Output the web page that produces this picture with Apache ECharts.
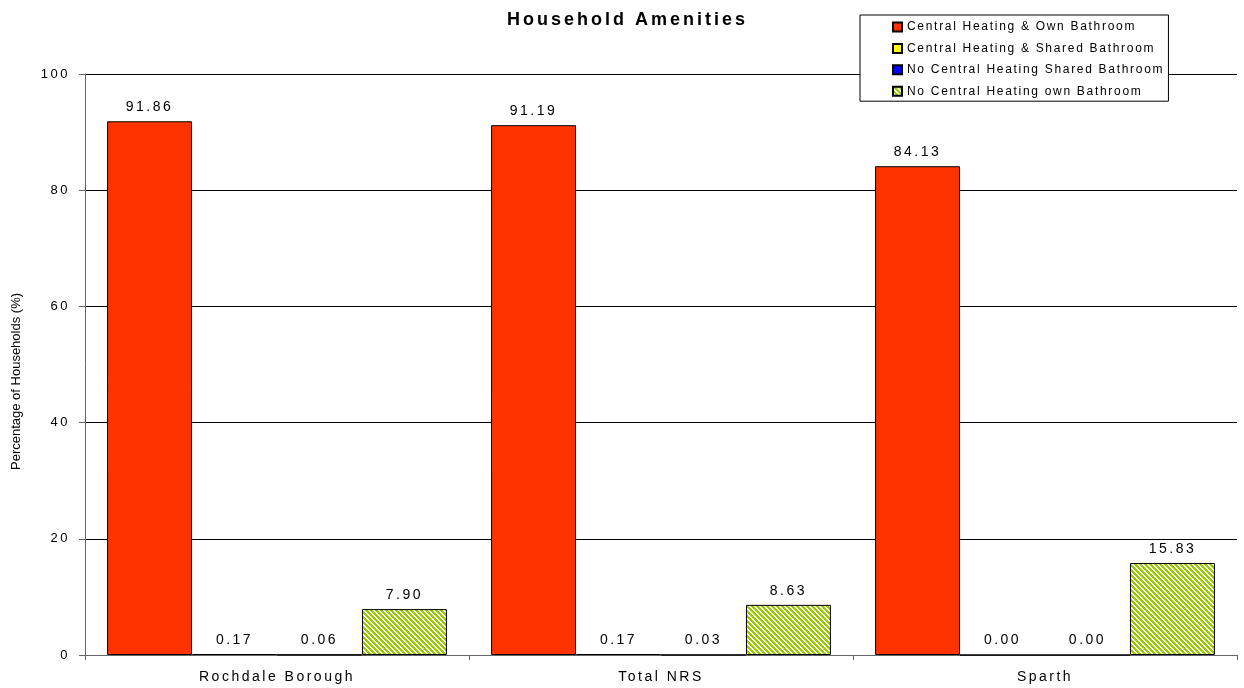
<!DOCTYPE html>
<html>
<head>
<meta charset="utf-8">
<title>Household Amenities</title>
<script src="https://cdn.jsdelivr.net/npm/echarts@6/dist/echarts.min.js"></script>
<style>
  html, body { margin: 0; padding: 0; background: #fff; }
  #chart { width: 1244px; height: 688px; }
</style>
</head>
<body>
<div id="chart"></div>
<script>
// Chart data
var categories = ["Rochdale Borough", "Total NRS", "Sparth"];
var seriesNames = [
  "Central Heating & Own Bathroom",
  "Central Heating & Shared Bathroom",
  "No Central Heating Shared Bathroom",
  "No Central Heating own Bathroom"
];
var ownBathHeating = [91.86, 91.19, 84.13];
var sharedBathHeating = [0.17, 0.17, 0.00];
var sharedBathNoHeating = [0.06, 0.03, 0.00];
var ownBathNoHeating = [7.90, 8.63, 15.83];
var yTicks = [0, 20, 40, 60, 80, 100];

// The original (Excel) text is drawn with wide letter spacing; echarts has no
// option for it, so add it on the canvas for the "Liberation Sans" texts.
var spacingBySize = { "12": 1.7, "13": 2.5, "14": 2.5, "18": 3 };
var origFillText = CanvasRenderingContext2D.prototype.fillText;
CanvasRenderingContext2D.prototype.fillText = function () {
  var m = /(\d+)px/.exec(this.font);
  var sp = 0;
  if (m && this.font.indexOf("Liberation") >= 0) {
    sp = spacingBySize[m[1]] || 0;
  }
  this.letterSpacing = sp + "px";
  return origFillText.apply(this, arguments);
};

// Green diagonal hatch for the last series
function hatchPattern() {
  var n = 5;
  var c = document.createElement("canvas");
  c.width = n;
  c.height = n;
  var ctx = c.getContext("2d");
  ctx.fillStyle = "#ffffff";
  ctx.fillRect(0, 0, n, n);
  ctx.fillStyle = "#99cc00";
  for (var y = 0; y < n; y++) {
    for (var x = 0; x < n; x++) {
      if ((x - y + 2 * n) % n < 3) {
        ctx.fillRect(x, y, 1, 1);
      }
    }
  }
  return { image: c, repeat: "repeat" };
}

var font = "Liberation Sans";
var colors = ["#ff3300", "#ffff00", "#0000ff", hatchPattern()];
var values = [ownBathHeating, sharedBathHeating, sharedBathNoHeating, ownBathNoHeating];

var series = seriesNames.map(function (name, i) {
  return {
    name: name,
    type: "bar",
    data: values[i],
    barGap: 0,
    barCategoryGap: "11.5%",
    itemStyle: {
      color: colors[i],
      borderColor: "#000",
      borderWidth: 1
    },
    label: {
      show: true,
      position: "top",
      distance: 7,
      color: "#000",
      fontFamily: font,
      fontSize: 14,
      formatter: function (p) { return p.value.toFixed(2); }
    },
    emphasis: { disabled: true }
  };
});

var myChart = echarts.init(document.getElementById("chart"), null, { renderer: "canvas" });

var option = {
  backgroundColor: "#fff",
  animation: false,
  title: {
    text: "Household Amenities",
    left: 507,
    top: 11,
    padding: 0,
    textStyle: {
      fontFamily: font,
      fontSize: 18,
      fontWeight: "bold",
      color: "#000"
    }
  },
  legend: {
    orient: "vertical",
    left: 860,
    top: 15,
    padding: [6, 62, 4, 32],
    itemWidth: 9,
    itemHeight: 9,
    itemGap: 9.4,
    icon: "rect",
    borderColor: "#000",
    borderWidth: 1,
    backgroundColor: "#fff",
    textStyle: {
      fontFamily: font,
      fontSize: 12,
      lineHeight: 12,
      color: "#000"
    },
    data: seriesNames
  },
  grid: {
    left: 85,
    right: 7,
    top: 74,
    bottom: 33
  },
  xAxis: {
    type: "category",
    data: categories,
    axisLine: { lineStyle: { color: "#666", width: 1 } },
    axisTick: { show: true, length: 5, lineStyle: { color: "#666" } },
    axisLabel: {
      margin: 15,
      color: "#000",
      fontFamily: font,
      fontSize: 14
    }
  },
  yAxis: {
    type: "value",
    min: yTicks[0],
    max: yTicks[yTicks.length - 1],
    interval: yTicks[1] - yTicks[0],
    name: "Percentage of Households (%)",
    nameLocation: "middle",
    nameGap: 62,
    nameTextStyle: {
      fontFamily: "Arial",
      fontSize: 13,
      color: "#000",
      padding: [0, 34, 0, 0]
    },
    axisLine: { show: true, lineStyle: { color: "#666", width: 1 } },
    axisTick: { show: true, length: 6, lineStyle: { color: "#666" } },
    axisLabel: {
      margin: 15,
      color: "#000",
      fontFamily: font,
      fontSize: 13
    },
    splitLine: { show: true, lineStyle: { color: "#000", width: 1 } }
  },
  series: series
};

myChart.setOption(option);
</script>
</body>
</html>
